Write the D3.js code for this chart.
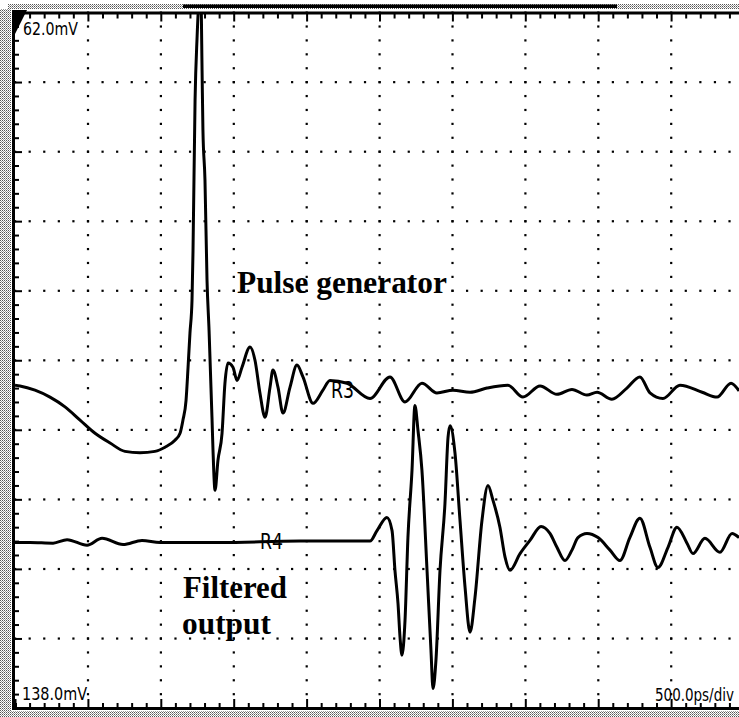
<!DOCTYPE html>
<html>
<head>
<meta charset="utf-8">
<script src="https://cdn.jsdelivr.net/npm/d3@7"></script>
<style>
  body { margin: 0; background: #fff; }
  .scope { font-family: "Liberation Sans Narrow", "DejaVu Sans Condensed", sans-serif; fill: #000; }
  .note { font-family: "Liberation Serif", "Times New Roman", serif; font-weight: bold; fill: #000; }
</style>
</head>
<body>
<div id="chart-container"></div>
<script>
// scope capture, time in ps, level in divisions from the bottom of the screen
// trace R3 = pulse generator
const times1 = [0, 34, 137, 240, 343, 446, 549, 652, 754, 857,
  960, 1029, 1097, 1132, 1152, 1173, 1187, 1200, 1214, 1221,
  1235, 1248, 1262, 1276, 1283, 1289, 1303, 1317, 1331, 1351,
  1358, 1372, 1392, 1420, 1440, 1461, 1495, 1523, 1557, 1612,
  1646, 1680, 1715, 1749, 1769, 1804, 1838, 1886, 1934, 1975,
  2044, 2112, 2160, 2277, 2435, 2572, 2675, 2791, 2894, 3004,
  3121, 3237, 3381, 3484, 3601, 3717, 3820, 3923, 3992, 4094,
  4197, 4286, 4355, 4444, 4561, 4713, 4815, 4911, 4966];
const levels1 = [4.64, 4.63, 4.57, 4.47, 4.33, 4.14, 3.95, 3.81, 3.69, 3.67,
  3.69, 3.75, 3.85, 3.95, 4.14, 4.42, 4.90, 5.39, 5.86, 6.58,
  8.74, 9.60, 10.11, 10.11, 9.17, 8.31, 7.59, 6.15, 5.43, 4.18,
  3.71, 3.13, 3.56, 3.95, 4.67, 4.96, 4.90, 4.71, 4.90, 5.19,
  5.00, 4.53, 4.18, 4.61, 4.86, 4.61, 4.24, 4.61, 4.93, 4.76,
  4.38, 4.57, 4.71, 4.67, 4.45, 4.76, 4.40, 4.67, 4.53, 4.57,
  4.54, 4.60, 4.64, 4.47, 4.63, 4.51, 4.58, 4.50, 4.54, 4.44,
  4.60, 4.76, 4.53, 4.45, 4.64, 4.54, 4.47, 4.67, 4.56];

// trace R4 = filtered output
const times2 = [0, 103, 261, 357, 494, 597, 741, 871, 995, 1406,
  1955, 2435, 2483, 2551, 2586, 2606, 2627, 2641, 2654, 2675,
  2695, 2723, 2743, 2764, 2791, 2826, 2853, 2867, 2887, 2915,
  2949, 2970, 2984, 3018, 3052, 3087, 3121, 3155, 3203, 3244,
  3278, 3326, 3361, 3395, 3464, 3532, 3608, 3669, 3717, 3772,
  3820, 3861, 3923, 3999, 4081, 4149, 4217, 4286, 4355, 4410,
  4479, 4540, 4609, 4650, 4732, 4835, 4918, 4966];
const levels2 = [2.38, 2.38, 2.37, 2.42, 2.34, 2.44, 2.35, 2.41, 2.38, 2.38,
  2.40, 2.40, 2.55, 2.74, 2.55, 1.98, 1.50, 1.01, 0.76, 1.26,
  2.45, 3.42, 4.35, 3.99, 3.42, 1.98, 0.83, 0.28, 0.68, 1.98,
  2.94, 3.89, 4.06, 3.66, 2.70, 1.73, 1.09, 1.59, 2.70, 3.20,
  2.99, 2.60, 2.17, 1.98, 2.22, 2.41, 2.61, 2.51, 2.31, 2.12,
  2.27, 2.45, 2.51, 2.45, 2.27, 2.12, 2.45, 2.73, 2.31, 2.02,
  2.31, 2.60, 2.37, 2.22, 2.44, 2.24, 2.51, 2.45];

const traceNames = ["R3", "R4"];
const scaleLabels = ["62.0mV", "138.0mV", "500.0ps/div"];
const notes = ["Pulse generator", "Filtered", "output"];

const svgWidth = 739;
const svgHeight = 717;

const svg = d3.select("#chart-container")
    .append("svg")
    .attr("width", svgWidth)
    .attr("height", svgHeight)
    .style("display", "block");

// screen is 10 x 10 divisions, right edge falls just off the picture
const x = d3.scaleLinear().domain([0, 5000]).range([15, 744]);
const y = d3.scaleLinear().domain([0, 10]).range([708, 12.5]);

// dithered scan border
const defs = svg.append("defs");
const pat = defs.append("pattern")
    .attr("id", "dither")
    .attr("width", 2).attr("height", 2)
    .attr("patternUnits", "userSpaceOnUse");
pat.append("rect").attr("width", 2).attr("height", 2).attr("fill", "#fff");
pat.append("rect").attr("width", 1).attr("height", 1).attr("fill", "#555");
pat.append("rect").attr("x", 1).attr("y", 1).attr("width", 1).attr("height", 1).attr("fill", "#999");

defs.append("clipPath").attr("id", "screen")
  .append("rect")
    .attr("x", x(0)).attr("y", y(10))
    .attr("width", svgWidth - x(0)).attr("height", y(0) - y(10));

svg.append("rect").attr("x", 0).attr("y", 9).attr("width", 11).attr("height", svgHeight - 9).attr("fill", "url(#dither)");
svg.append("rect").attr("x", 8).attr("y", 4).attr("width", svgWidth - 8).attr("height", 5).attr("fill", "url(#dither)");
svg.append("rect").attr("x", 8).attr("y", 711).attr("width", svgWidth - 8).attr("height", 6).attr("fill", "url(#dither)");
// record bar along the top
svg.append("rect").attr("x", 183).attr("y", 4.5).attr("width", 434).attr("height", 3.5).attr("fill", "#000");

// dotted graticule, one dot every fifth of a division
const minorT = d3.range(0, 5001, 100);
const minorV = d3.range(0, 10.01, 0.2);
const majorT = d3.range(500, 5000, 500);
const majorV = d3.range(1, 10, 1);

const dots = [];
majorV.forEach(v => minorT.forEach(t => dots.push([t, v])));
majorT.forEach(t => minorV.forEach(v => dots.push([t, v])));

svg.append("g")
    .selectAll("rect")
    .data(dots)
    .join("rect")
    .attr("x", d => x(d[0]) - 1)
    .attr("y", d => y(d[1]) - 1)
    .attr("width", 2.2)
    .attr("height", 2.2)
    .attr("fill", "#000");

// edge ticks, longer at each whole division
const topAxis = svg.append("g").attr("transform", `translate(0,${y(10)})`);
topAxis.call(d3.axisBottom(x).tickValues(minorT).tickFormat("").tickSizeOuter(0).tickSize(5));
topAxis.selectAll(".tick line").attr("y2", d => d % 500 === 0 ? 9 : 6);

const bottomAxis = svg.append("g").attr("transform", `translate(0,${y(0)})`);
bottomAxis.call(d3.axisTop(x).tickValues(minorT).tickFormat("").tickSizeOuter(0).tickSize(5));
bottomAxis.selectAll(".tick line").attr("y2", d => d % 500 === 0 ? -9 : -5);

const leftAxis = svg.append("g").attr("transform", `translate(${x(0) - 2},0)`);
leftAxis.call(d3.axisRight(y).tickValues(minorV).tickFormat("").tickSizeOuter(0).tickSize(5));
leftAxis.selectAll(".tick line").attr("x2", d => Math.abs(d - Math.round(d)) < 0.01 ? 9 : 6);

[topAxis, bottomAxis, leftAxis].forEach(a => {
    a.selectAll(".tick line").attr("stroke", "#000").attr("stroke-width", 2);
    a.select(".domain").attr("stroke", "#000").attr("stroke-width", 3);
});

// corner marker
svg.append("path")
    .attr("d", "M12,10 L27,10 L14,36 Z")
    .attr("fill", "#000");

// traces
const line = d3.line()
    .x(d => x(d[0]))
    .y(d => y(d[1]))
    .curve(d3.curveMonotoneX);

const traces = [
    d3.zip(times1, levels1),
    d3.zip(times2, levels2)
];

svg.append("g")
    .attr("clip-path", "url(#screen)")
    .selectAll("path")
    .data(traces)
    .join("path")
    .attr("d", line)
    .attr("fill", "none")
    .attr("stroke", "#000")
    .attr("stroke-width", 3)
    .attr("stroke-linejoin", "round");

// text helper: squeeze the text sideways so it spans the width seen on the scope
function addText(cls, str, px, py, size, w) {
    const t = svg.append("text")
        .attr("class", cls)
        .style("font-size", size + "px")
        .text(str);
    const natural = t.node().getComputedTextLength();
    t.attr("transform", `translate(${px},${py}) scale(${w / natural},1)`);
    return t;
}

// trace labels sit on top of the trace
addText("scope", traceNames[0], 331, 398, 23, 23);
addText("scope", traceNames[1], 260, 549, 22, 23);

// readouts
addText("scope", scaleLabels[0], 23, 35, 18, 55);
addText("scope", scaleLabels[1], 22, 700, 18, 65);
addText("scope", scaleLabels[2], 655, 701, 18, 79);

// annotations
addText("note", notes[0], 237, 293, 31, 210);
addText("note", notes[1], 183, 598, 31, 104);
addText("note", notes[2], 182, 634, 31, 89);
</script>
</body>
</html>
